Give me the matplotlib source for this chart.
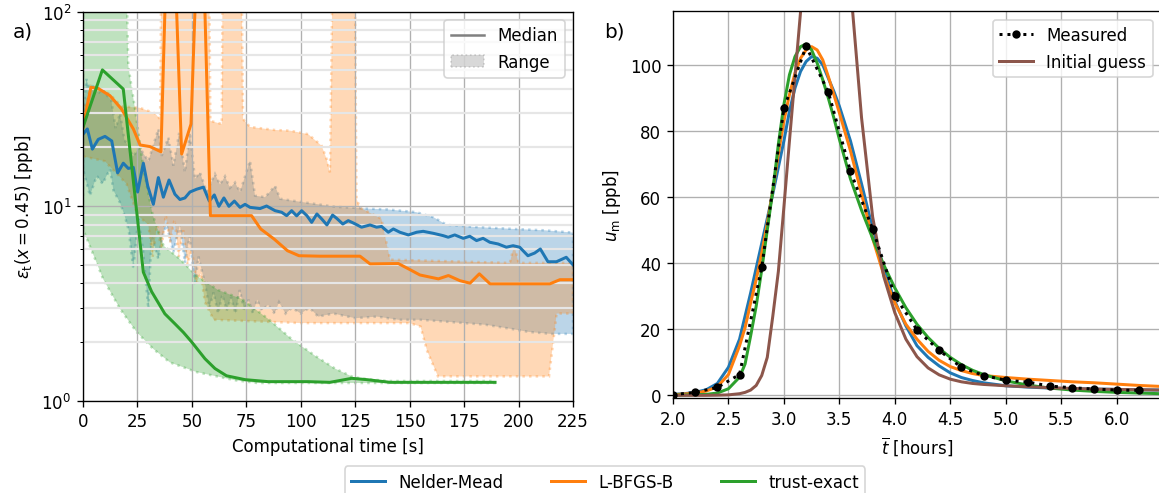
import matplotlib
matplotlib.use('Agg')
import matplotlib.pyplot as plt
from matplotlib.lines import Line2D
from matplotlib.patches import Patch

# ---------------- a) error vs computational time ----------------
# Nelder-Mead median
nm_t = [0, 2.0, 4.3, 7.0, 10.1, 13.2, 15.9, 18.5, 20.8, 23.1,
        25.1, 27.7, 29.7, 32.3, 34.6, 36.9, 39.5, 42.2, 44.5, 46.8,
        49.1, 52.2, 55.3, 58.0, 60.3, 62.4, 64.7, 67.0, 69.5, 72.1,
        74.4, 76.7, 81.3, 84.3, 88.2, 91.2, 93.5, 95.8, 98.1, 100.4,
        102.8, 105.0, 107.4, 109.6, 112.0, 114.6, 116.5, 119.3, 121.8, 124.1,
        127.9, 131.8, 134.8, 137.1, 140.2, 142.5, 145.5, 149.4, 153.2, 156.2,
        160.8, 165.4, 167.7, 170.7, 174.6, 177.6, 180.7, 183.7, 186.8, 190.6,
        194.4, 197.5, 200.5, 204.3, 207.4, 210.0, 213.5, 217.4, 221.9, 225.0]
nm_med = [23.4, 24.9, 19.6, 22.0, 22.8, 21.6, 14.8, 16.6, 15.6, 15.8,
          11.8, 16.6, 12.7, 10.2, 14.0, 11.1, 13.6, 11.5, 10.8, 11.0,
          11.8, 12.2, 12.5, 10.6, 11.4, 9.96, 11.0, 9.96, 10.6, 9.84,
          10.2, 9.84, 9.7, 10.0, 9.46, 9.29, 8.92, 9.46, 8.9, 9.46,
          8.92, 8.24, 9.1, 8.58, 7.99, 8.98, 8.64, 8.08, 8.41, 8.18,
          7.78, 7.99, 7.78, 7.85, 7.33, 7.62, 7.33, 7.10, 7.33, 7.41,
          7.24, 7.04, 6.91, 7.10, 6.82, 6.99, 6.64, 6.82, 6.51, 6.38,
          6.14, 6.25, 6.14, 5.55, 5.73, 6.01, 5.17, 5.17, 5.45, 4.98]
# Nelder-Mead range
nm_hi_t = [0, 1.5, 3, 5, 7, 9, 11, 13, 15, 17,
           19, 21, 23, 26, 30, 34.6, 36.1, 39.2, 41.5, 44.2,
           46.8, 49.1, 51.4, 53.7, 56.8, 60.6, 62.9, 65.2, 67.5, 69.8,
           72.1, 76.7, 79.0, 83.6, 88.2, 90.5, 95.1, 100, 108, 116,
           124, 130, 140, 153, 161, 167, 180, 190, 200, 212, 225]
nm_hi = [28, 45, 40, 42, 38, 40, 37, 35, 25, 30,
         22, 20, 18, 20, 17, 24.9, 18.1, 22.5, 16.1, 23.9,
         14.9, 23.9, 13.8, 14.9, 11.8, 14.6, 12.9, 14.2, 12.4, 13.2,
         11.8, 17.1, 11.3, 11.1, 12.7, 10.9, 10.7, 10.5, 10.2, 9.9,
         9.8, 9.7, 9.6, 9.3, 8.75, 8.0, 7.8, 7.7, 7.6, 7.5, 7.3]
nm_lo_t = [0, 3.2, 6.3, 9, 12.4, 14, 17, 19, 21, 23.1,
           25.4, 27.5, 30, 31.5, 34.6, 36.5, 38.4, 41.5, 44.5, 46.8,
           49, 51.4, 53, 56, 58, 60, 62, 64, 66, 68,
           70, 72, 74, 76, 78, 80, 82, 85, 88, 90,
           93, 96, 100, 104, 108, 115, 125, 135, 145, 155,
           165, 175, 185, 195, 205, 215, 225]
nm_lo = [15.5, 11.3, 14.3, 13, 15.5, 12, 10.4, 9, 7.5, 4.75,
         8.6, 6, 2.96, 7.0, 5.34, 7, 8, 5.8, 8, 5.1,
         7, 3.9, 5.5, 4.0, 3.0, 3.6, 2.8, 3.5, 2.9, 3.4,
         2.8, 3.7, 2.9, 3.3, 2.8, 3.3, 2.9, 3.1, 2.8, 3.2,
         2.8, 3.0, 2.8, 3.0, 2.7, 2.8, 2.65, 2.7, 2.6, 2.6,
         2.55, 2.5, 2.45, 2.35, 2.25, 2.2, 2.2]

# L-BFGS-B median
lb_t = [0, 3.6, 7.0, 12.4, 17.7, 23.1, 26.2, 30.8, 35.8, 40.0,
        45.3, 49.6, 54.0, 58.5, 77.4, 81.6, 87.7, 93.9, 99.2, 108.8,
        127.2, 131.8, 144.8, 150.1, 154.7, 163.2, 167.8, 173.1, 177.7, 182.0,
        186.9, 214.4, 219.0, 225]
lb_med = [25.4, 40.7, 40.2, 36.9, 31.5, 24.9, 20.6, 20.2, 19.0, 900,
          18.5, 26.4, 680, 8.92, 8.92, 7.62, 6.77, 5.89, 5.55, 5.52,
          5.52, 5.04, 5.06, 4.71, 4.42, 4.22, 4.39, 4.13, 4.01, 4.48,
          3.98, 3.98, 4.18, 4.18]
# L-BFGS-B range
lb_hi_t = [0, 3.6, 7, 12.4, 17.7, 26, 33, 35.4, 36.5, 57.4,
           58.5, 63.7, 64.5, 72.1, 73.5, 76.7, 88, 95, 103.4, 109.6,
           111.9, 113.4, 115.5, 124.3, 125.6, 127.2, 137, 141, 196, 198,
           200, 225]
lb_hi = [30, 41.5, 41, 37.5, 32.5, 32, 30, 28, 1000, 1000,
         27.4, 26.4, 1000, 1000, 28, 25.5, 24.6, 24.4, 23.4, 20.4,
         17.4, 14.9, 1000, 1000, 10.9, 9.8, 8.6, 5.3, 5.1, 6.3,
         5.1, 5.1]
lb_lo_t = [0, 10, 20, 25, 30, 32, 34, 36, 38, 40,
           42, 44, 46, 48, 50, 52, 54, 56, 60, 100,
           150, 155, 158, 163, 214, 217.5, 225]
lb_lo = [18, 17, 13, 9, 8, 5.5, 8, 6, 9, 6.5,
         8.5, 5.5, 7.5, 5, 6, 4, 4.5, 3.2, 2.6, 2.5,
         2.5, 2.4, 1.8, 1.33, 1.33, 2.8, 2.8]

# trust-exact median
te_t = [0, 8.9, 18.5, 27.7, 31.5, 37.6, 42.2, 46.1, 49.9, 56.0,
        60.6, 65.9, 74.4, 85.0, 103.4, 113.4, 123.4, 130.3, 141.0, 189.2]
te_med = [25.4, 50.1, 39.9, 4.57, 3.63, 2.79, 2.48, 2.24, 2.0, 1.64,
          1.46, 1.34, 1.28, 1.25, 1.25, 1.24, 1.30, 1.28, 1.24, 1.24]
# trust-exact range
te_hi_t = [0, 18.5, 20.8, 23.9, 28, 32, 37, 44.5, 52, 62,
           72.8, 85, 95.8, 106.5, 115.7, 124, 130, 140, 189]
te_hi = [1000, 1000, 52.7, 31.5, 15, 9, 6.25, 5.34, 4.39, 3.7,
         3.33, 2.63, 2.07, 1.70, 1.46, 1.32, 1.29, 1.26, 1.26]
te_lo_t = [0, 9.3, 17, 24.6, 32.3, 39.9, 52.2, 62.9, 70, 80, 189]
te_lo = [7.6, 4.2, 2.96, 2.25, 1.84, 1.57, 1.40, 1.32, 1.27, 1.23, 1.23]

# ---------------- b) concentration curves ----------------
meas_h = [2.0, 2.2, 2.4, 2.6, 2.8, 3.0, 3.2, 3.4, 3.6, 3.8, 4.0,
          4.2, 4.4, 4.6, 4.8, 5.0, 5.2, 5.4, 5.6, 5.8, 6.0, 6.2]
meas_u = [0.2, 0.9, 2.4, 6.3, 38.8, 86.8, 105.6, 91.8, 67.8, 50.3, 30.1,
          19.8, 13.6, 8.5, 6.0, 4.6, 4.0, 2.8, 2.3, 1.9, 1.6, 1.5]

fit_h = [2.0, 2.1, 2.2, 2.3, 2.4, 2.5, 2.6, 2.65, 2.7, 2.75,
         2.8, 2.85, 2.9, 2.95, 3.0, 3.05, 3.1, 3.15, 3.2, 3.25,
         3.3, 3.35, 3.4, 3.45, 3.5, 3.6, 3.7, 3.8, 3.9, 4.0,
         4.1, 4.2, 4.3, 4.4, 4.5, 4.6, 4.7, 4.8, 5.0, 5.2,
         5.4, 5.6, 5.8, 6.0, 6.2, 6.4]
nm_fit = [0.3, 0.5, 0.9, 1.7, 3.6, 8.5, 17, 24, 31, 38.5,
          46, 53.5, 61, 69, 77, 86, 93, 98, 101, 102.5,
          102, 100, 96, 92, 87.5, 77, 64, 50.5, 38.5, 28.5,
          21, 15, 11.5, 8.9, 6.8, 5.4, 4.5, 3.8, 2.9, 2.5,
          2.2, 2.0, 1.9, 1.8, 1.7, 1.6]
lb_fit = [0.2, 0.4, 0.7, 1.3, 2.6, 6.3, 15, 20.5, 28, 35,
          43, 52, 62, 73, 83, 91, 97.5, 102, 104.5, 105.5,
          104.5, 101.5, 96.5, 91, 85.5, 74, 61, 47.5, 36.5, 28,
          21.5, 17, 13.3, 10.6, 8.7, 7.5, 6.6, 6.0, 5.4, 4.9,
          4.5, 4.1, 3.8, 3.4, 3.0, 2.7]
te_fit = [0.1, 0.1, 0.2, 0.3, 0.7, 2.0, 5.5, 9.5, 18, 27,
          38, 50, 62, 76, 88, 97, 102.5, 105.5, 106.3, 104.5,
          100.5, 95.5, 90, 84, 77.5, 65.5, 56, 47.5, 39.5, 32.5,
          26.5, 21.5, 17.5, 14.2, 11.5, 9.3, 7.6, 6.3, 4.4, 3.1,
          2.2, 1.6, 1.2, 0.9, 0.7, 0.5]
guess_fit = [0, 0, 0, 0, 0.05, 0.15, 0.5, 0.9, 1.6, 3.0,
             6.0, 11.5, 24, 37.5, 57, 77, 96.5, 116, 131, 143,
             151, 155, 156, 153, 146, 124, 84, 54, 36, 25,
             17, 11.7, 8.3, 6.2, 4.9, 4.1, 3.6, 3.3, 2.9, 2.6,
             2.3, 2.1, 1.9, 1.8, 1.7, 1.6]

methods = ['Nelder-Mead', 'L-BFGS-B', 'trust-exact']
colors = ['tab:blue', 'tab:orange', 'tab:green']

W, H = 1159, 494
fig = plt.figure(figsize=(W / 120, H / 120), dpi=120)
ax1 = fig.add_axes([83 / W, 1 - 401.5 / H, 490 / W, 389 / H])
ax2 = fig.add_axes([673 / W, 1 - 399 / H, 488 / W, 386.7 / H])

# bands
bands = [(nm_hi_t, nm_hi, nm_lo_t, nm_lo),
         (lb_hi_t, lb_hi, lb_lo_t, lb_lo),
         (te_hi_t, te_hi, te_lo_t, te_lo)]
for (ht, hv, lt, lv), c in zip(bands, colors):
    ax1.fill(ht + lt[::-1], hv + lv[::-1], facecolor=c, edgecolor=c,
             alpha=0.3, linestyle=':', linewidth=1.5)

# medians
medians = [(nm_t, nm_med), (lb_t, lb_med), (te_t, te_med)]
for (t, m), c, name in zip(medians, colors, methods):
    ax1.plot(t, m, color=c, lw=1.8, label=name)

ax1.set_yscale('log')
ax1.set_xlim(0, 225)
ax1.set_ylim(1, 100)
ax1.set_xticks(range(0, 226, 25))
ax1.grid(True, which='major')
ax1.grid(True, which='minor', axis='y', color='0.9', linewidth=1.3)
ax1.set_xlabel('Computational time [s]')
ax1.set_ylabel(r'$\varepsilon_\mathrm{t}(x = 0.45)$ [ppb]')
leg_handles = [Line2D([], [], color='gray', lw=1.5),
               Patch(facecolor='gray', edgecolor='gray', alpha=0.3, linestyle=':')]
ax1.legend(leg_handles, ['Median', 'Range'], loc='upper right')

# panel b
for v, c in zip([nm_fit, lb_fit, te_fit], colors):
    ax2.plot(fit_h, v, color=c, lw=1.8)
ax2.plot(fit_h, guess_fit, color='tab:brown', lw=1.8, label='Initial guess')
ax2.plot(meas_h, meas_u, 'k:o', markersize=4, lw=1.8, label='Measured')
ax2.set_xlim(2, 6.4)
ax2.set_ylim(-0.8, 116.2)
ax2.set_xticks([2.0, 2.5, 3.0, 3.5, 4.0, 4.5, 5.0, 5.5, 6.0])
ax2.set_yticks([0, 20, 40, 60, 80, 100])
ax2.grid(True)
ax2.set_xlabel(r'$\overline{t}$ [hours]')
ax2.set_ylabel(r'$u_\mathrm{m}$ [ppb]')
h2, l2 = ax2.get_legend_handles_labels()
ax2.legend([h2[1], h2[0]], [l2[1], l2[0]], loc='upper right')

fig.text(13 / W, 1 - 31.5 / H, 'a)', fontsize=12, va='center', ha='left')
fig.text(604 / W, 1 - 32 / H, 'b)', fontsize=12, va='center', ha='left')

h1, l1 = ax1.get_legend_handles_labels()
fig.legend(h1, l1, loc='upper center', bbox_to_anchor=(605 / W, 1 - 459 / H),
           ncol=3, columnspacing=2.9)

fig.savefig('out.png', dpi=120)
